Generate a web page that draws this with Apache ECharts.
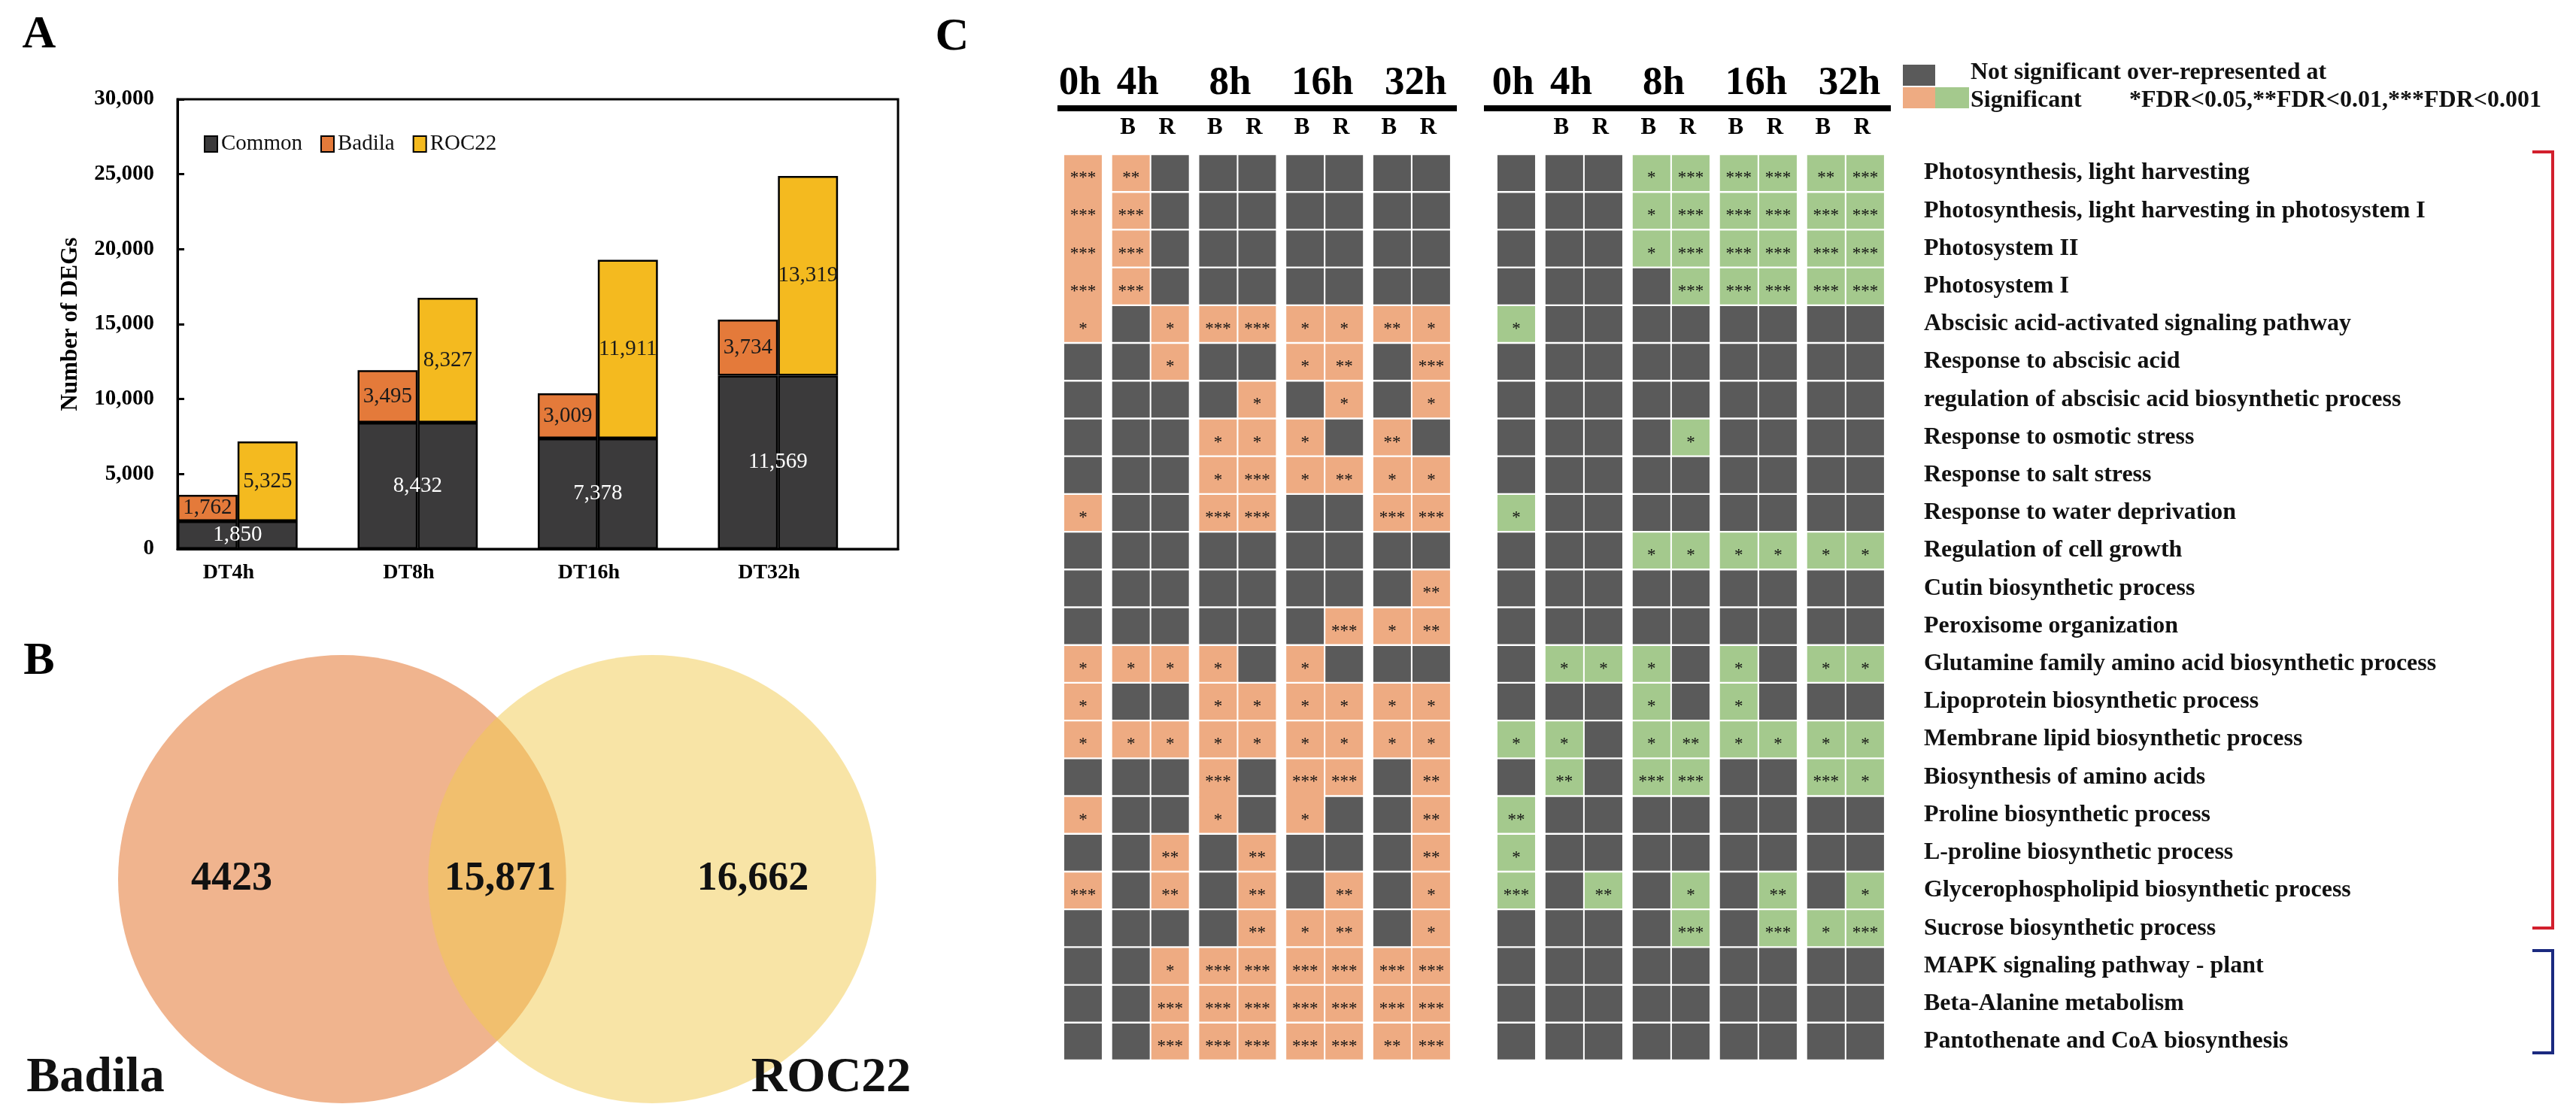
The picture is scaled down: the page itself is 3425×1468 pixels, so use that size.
<!DOCTYPE html>
<html><head><meta charset="utf-8">
<script src="https://cdn.jsdelivr.net/npm/echarts@6/dist/echarts.min.js"></script>
<style>html,body{margin:0;padding:0;background:#fff}#c{width:3425px;height:1468px}</style>
</head><body><div id="c"></div>
<script>
// ---------- Panel A data ----------
const timepoints = ['DT4h', 'DT8h', 'DT16h', 'DT32h'];
const commonDEGs = [1850, 8432, 7378, 11569];
const badilaDEGs = [1762, 3495, 3009, 3734];
const roc22DEGs  = [5325, 8327, 11911, 13319];
const seriesNames = ['Common', 'Badila', 'ROC22'];

// ---------- Panel B data ----------
const vennNames  = ['Badila', 'ROC22'];
const vennCounts = [4423, 15871, 16662]; // Badila only, shared, ROC22 only

// ---------- Panel C data ----------
const hourLabels = ['0h', '4h', '8h', '16h', '32h'];
const cellColumns = ['0h', '4h B', '4h R', '8h B', '8h R', '16h B', '16h R', '32h B', '32h R'];
const subLabels = ['', 'B', 'R', 'B', 'R', 'B', 'R', 'B', 'R'];
const goTerms = [
  'Photosynthesis, light harvesting',
  'Photosynthesis, light harvesting in photosystem I',
  'Photosystem II',
  'Photosystem I',
  'Abscisic acid-activated signaling pathway',
  'Response to abscisic acid',
  'regulation of abscisic acid biosynthetic process',
  'Response to osmotic stress',
  'Response to salt stress',
  'Response to water deprivation',
  'Regulation of cell growth',
  'Cutin biosynthetic process',
  'Peroxisome organization',
  'Glutamine family amino acid biosynthetic process',
  'Lipoprotein biosynthetic process',
  'Membrane lipid biosynthetic process',
  'Biosynthesis of amino acids',
  'Proline biosynthetic process',
  'L-proline biosynthetic process',
  'Glycerophospholipid biosynthetic process',
  'Sucrose biosynthetic process',
  'MAPK signaling pathway - plant',
  'Beta-Alanine metabolism',
  'Pantothenate and CoA biosynthesis'
];
// 0 = not significant, 1 = *, 2 = **, 3 = ***
const sigOrange = [
  [3,2,0,0,0,0,0,0,0],
  [3,3,0,0,0,0,0,0,0],
  [3,3,0,0,0,0,0,0,0],
  [3,3,0,0,0,0,0,0,0],
  [1,0,1,3,3,1,1,2,1],
  [0,0,1,0,0,1,2,0,3],
  [0,0,0,0,1,0,1,0,1],
  [0,0,0,1,1,1,0,2,0],
  [0,0,0,1,3,1,2,1,1],
  [1,0,0,3,3,0,0,3,3],
  [0,0,0,0,0,0,0,0,0],
  [0,0,0,0,0,0,0,0,2],
  [0,0,0,0,0,0,3,1,2],
  [1,1,1,1,0,1,0,0,0],
  [1,0,0,1,1,1,1,1,1],
  [1,1,1,1,1,1,1,1,1],
  [0,0,0,3,0,3,3,0,2],
  [1,0,0,1,0,1,0,0,2],
  [0,0,2,0,2,0,0,0,2],
  [3,0,2,0,2,0,2,0,1],
  [0,0,0,0,2,1,2,0,1],
  [0,0,1,3,3,3,3,3,3],
  [0,0,3,3,3,3,3,3,3],
  [0,0,3,3,3,3,3,2,3]
];
const sigGreen = [
  [0,0,0,1,3,3,3,2,3],
  [0,0,0,1,3,3,3,3,3],
  [0,0,0,1,3,3,3,3,3],
  [0,0,0,0,3,3,3,3,3],
  [1,0,0,0,0,0,0,0,0],
  [0,0,0,0,0,0,0,0,0],
  [0,0,0,0,0,0,0,0,0],
  [0,0,0,0,1,0,0,0,0],
  [0,0,0,0,0,0,0,0,0],
  [1,0,0,0,0,0,0,0,0],
  [0,0,0,1,1,1,1,1,1],
  [0,0,0,0,0,0,0,0,0],
  [0,0,0,0,0,0,0,0,0],
  [0,1,1,1,0,1,0,1,1],
  [0,0,0,1,0,1,0,0,0],
  [1,1,0,1,2,1,1,1,1],
  [0,2,0,3,3,0,0,3,1],
  [2,0,0,0,0,0,0,0,0],
  [1,0,0,0,0,0,0,0,0],
  [3,0,2,0,1,0,2,0,1],
  [0,0,0,0,3,0,3,1,3],
  [0,0,0,0,0,0,0,0,0],
  [0,0,0,0,0,0,0,0,0],
  [0,0,0,0,0,0,0,0,0]
];
const legendTextC = ['Not significant over-represented at', 'Significant', '*FDR<0.05,**FDR<0.01,***FDR<0.001'];

// ---------- styles / layout ----------
const SERIF = "'Liberation Serif','Times New Roman',serif";
const COLORS = { Common: '#3b3a3b', Badila: '#e47a3a', ROC22: '#f4ba1f' };
const GRAY = '#5a5a5a', ORANGE = '#eeab82', GREEN = '#a4c98d';
const fmt = v => String(v).replace(/\B(?=(\d{3})+(?!\d))/g, ',');
// visual style: cells drawn joined with the cell below (block, column, row)
const joinedBelow = { orange: ['0-0', '0-1', '0-2', '0-3', '3-16', '5-16'], green: [] };

// bar slots: Badila bar, ROC22 bar, gap (per time point)
const slots = [];
timepoints.forEach(t => { slots.push(t + '|B', t + '|R', t + '|-'); });
const commonData = [], badilaData = [], rocData = [];
timepoints.forEach((t, i) => {
  commonData.push({ value: commonDEGs[i], label: { show: true } }, commonDEGs[i], '-');
  badilaData.push(badilaDEGs[i], '-', '-');
  rocData.push('-', roc22DEGs[i], '-');
});

// heatmap column positions (units): groups separated by a small gap
const GROUP_GAP = 0.225, CELL_W = 0.96;
const colPos = c => c + Math.ceil(c / 2) * GROUP_GAP;
const XMAX = colPos(8) + 1;
function heatData(sig) {
  const out = [];
  sig.forEach((row, r) => row.forEach((v, c) => out.push([colPos(c), r, v, c])));
  return out;
}
function heatRender(color, joins) {
  return function (params, api) {
    const x = api.value(0), r = api.value(1), v = api.value(2), c = api.value(3);
    const p = api.coord([x, r]);
    const w = api.size([CELL_W, 0])[0];
    const band = api.size([0, 1])[1];
    const gap = 2.4;
    const h = band - gap + (joins.indexOf(c + '-' + r) >= 0 ? gap + 0.5 : 0);
    const top = p[1] - (band - gap) / 2;
    const children = [{ type: 'rect', shape: { x: p[0], y: top, width: w, height: h }, style: { fill: v > 0 ? color : GRAY } }];
    if (v > 0) children.push({ type: 'text', z2: 10, style: { text: '*'.repeat(v), x: p[0] + w / 2, y: p[1] + 7, align: 'center', verticalAlign: 'middle', fontSize: 23, fontFamily: SERIF, fill: '#111' } });
    return { type: 'group', children };
  };
}

// venn layout (data units, radius = 1)
const VENN = { dx: 0.687, r: 0.993, textX: [-1.177, 0.013, 1.133], nameX: [-1.78, 1.48], nameY: -0.885 };

const chart = echarts.init(document.getElementById('c'), null, { renderer: 'canvas' });
const option = {
  animation: false,
  backgroundColor: '#fff',
  grid: [
    { left: 236, top: 132, width: 958, height: 598, show: true, borderColor: '#000', borderWidth: 3, backgroundColor: 'transparent' },
    { left: 61, top: 870, width: 1200, height: 600 },
    { left: 1415, top: 205, width: 515, height: 1205 },
    { left: 1991, top: 205, width: 516, height: 1205 }
  ],
  legend: {
    data: seriesNames, left: 266, top: 172, itemWidth: 17, itemHeight: 21, itemGap: 24, icon: 'rect',
    textStyle: { fontFamily: SERIF, fontSize: 29, color: '#111' }
  },
  xAxis: [
    { gridIndex: 0, type: 'category', data: slots,
      axisLine: { lineStyle: { color: '#000', width: 3 } }, axisTick: { show: false },
      axisLabel: { interval: 0, formatter: (v, i) => (i % 3 === 0 ? v.split('|')[0] : ''), padding: [0, 0, 0, 56],
        fontFamily: SERIF, fontWeight: 'bold', fontSize: 28, color: '#000', margin: 18 } },
    { gridIndex: 1, type: 'value', min: -2, max: 2, show: false },
    { gridIndex: 2, type: 'value', min: 0, max: XMAX, show: false },
    { gridIndex: 3, type: 'value', min: 0, max: XMAX, show: false }
  ],
  yAxis: [
    { gridIndex: 0, type: 'value', min: 0, max: 30000, interval: 5000,
      name: 'Number of DEGs', nameLocation: 'middle', nameGap: 127,
      nameTextStyle: { fontFamily: SERIF, fontWeight: 'bold', fontSize: 31, color: '#000' },
      axisLine: { show: true, lineStyle: { color: '#000', width: 3 } },
      axisTick: { show: true, inside: true, length: 9, lineStyle: { color: '#000', width: 3 } },
      splitLine: { show: false },
      axisLabel: { formatter: v => fmt(v), fontFamily: SERIF, fontWeight: 'bold', fontSize: 29, color: '#000', margin: 31 } },
    { gridIndex: 1, type: 'value', min: -1, max: 1, show: false },
    { gridIndex: 2, type: 'category', data: goTerms, inverse: true, show: false },
    { gridIndex: 3, type: 'category', data: goTerms, inverse: true, position: 'right',
      axisLine: { show: false }, axisTick: { show: false },
      axisLabel: { align: 'left', margin: 51, fontFamily: SERIF, fontWeight: 'bold', fontSize: 32, color: '#111' } }
  ],
  series: [
    { name: 'Common', type: 'bar', stack: 'deg', xAxisIndex: 0, yAxisIndex: 0, data: commonData, barCategoryGap: '0%',
      itemStyle: { color: COLORS.Common, borderColor: '#000', borderWidth: 2.5 },
      label: { show: false, position: 'inside', offset: [40, 0], color: '#fff', fontFamily: SERIF, fontSize: 29, formatter: p => fmt(p.value) } },
    { name: 'Badila', type: 'bar', stack: 'deg', xAxisIndex: 0, yAxisIndex: 0, data: badilaData, barCategoryGap: '0%',
      itemStyle: { color: COLORS.Badila, borderColor: '#000', borderWidth: 2.5 },
      label: { show: true, position: 'inside', color: '#1a1a1a', fontFamily: SERIF, fontSize: 29, formatter: p => fmt(p.value) } },
    { name: 'ROC22', type: 'bar', stack: 'deg', xAxisIndex: 0, yAxisIndex: 0, data: rocData, barCategoryGap: '0%',
      itemStyle: { color: COLORS.ROC22, borderColor: '#000', borderWidth: 2.5 },
      label: { show: true, position: 'inside', color: '#1a1a1a', fontFamily: SERIF, fontSize: 29, formatter: p => fmt(p.value) } },
    // Venn circles
    { type: 'custom', xAxisIndex: 1, yAxisIndex: 1, data: vennNames.map((n, i) => [i === 0 ? -VENN.dx : VENN.dx, 0, i]),
      renderItem: (params, api) => {
        const c = api.coord([api.value(0), api.value(1)]);
        const r = api.size([VENN.r, 0])[0];
        const i = api.value(2);
        return { type: 'circle', shape: { cx: c[0], cy: c[1], r },
          style: i === 0 ? { fill: '#f0b48e' } : { fill: '#f1c94d', opacity: 0.5 } };
      }, silent: true },
    // Venn counts
    { type: 'custom', xAxisIndex: 1, yAxisIndex: 1, data: vennCounts.map((v, i) => [VENN.textX[i], 0, v]), z: 5,
      renderItem: (params, api) => {
        const c = api.coord([api.value(0), api.value(1)]);
        const v = api.value(2);
        return { type: 'text', style: { text: v < 10000 ? String(v) : fmt(v),
          x: c[0], y: c[1], align: 'center', verticalAlign: 'middle', fontFamily: SERIF, fontWeight: 'bold', fontSize: 54, fill: '#111' } };
      } },
    // Venn set names
    { type: 'custom', xAxisIndex: 1, yAxisIndex: 1, data: vennNames.map((n, i) => [VENN.nameX[i], VENN.nameY, i]), z: 5,
      renderItem: (params, api) => {
        const c = api.coord([api.value(0), api.value(1)]);
        return { type: 'text', style: { text: vennNames[api.value(2)], x: c[0], y: c[1], align: 'center', verticalAlign: 'middle',
          fontFamily: SERIF, fontWeight: 'bold', fontSize: 66, fill: '#111' } };
      } },
    // Heatmaps
    { type: 'custom', xAxisIndex: 2, yAxisIndex: 2, data: heatData(sigOrange), renderItem: heatRender(ORANGE, joinedBelow.orange) },
    { type: 'custom', xAxisIndex: 3, yAxisIndex: 3, data: heatData(sigGreen), renderItem: heatRender(GREEN, joinedBelow.green) }
  ]
};
chart.setOption(option);

// ---------- annotations (headers, legend of C, brackets, panel letters) ----------
const hourPos = [0.4, 1.88, 4.24, 6.6, 8.98];
const g = [];
const letter = (t, x, y) => ({ type: 'text', style: { text: t, x, y, align: 'center', verticalAlign: 'middle', fontFamily: SERIF, fontWeight: 'bold', fontSize: 62, fill: '#000' } });
g.push(letter('A', 52, 47), letter('B', 52, 880), letter('C', 1266, 50));
[2, 3].forEach((xi, b) => {
  hourLabels.forEach((h, k) => {
    const px = chart.convertToPixel({ xAxisIndex: xi }, hourPos[k]);
    g.push({ type: 'text', style: { text: h, x: px, y: 111, align: 'center', verticalAlign: 'middle', fontFamily: SERIF, fontWeight: 'bold', fontSize: 53, fill: '#000' } });
  });
  subLabels.forEach((s, c) => {
    if (!s) return;
    const px = chart.convertToPixel({ xAxisIndex: xi }, colPos(c) + CELL_W / 2);
    g.push({ type: 'text', style: { text: s, x: px - 4, y: 170, align: 'center', verticalAlign: 'middle', fontFamily: SERIF, fontWeight: 'bold', fontSize: 31, fill: '#000' } });
  });
  const x0 = chart.convertToPixel({ xAxisIndex: xi }, 0);
  const x1 = chart.convertToPixel({ xAxisIndex: xi }, XMAX);
  g.push({ type: 'rect', shape: { x: x0 - (b === 0 ? 9 : 18), y: 140, width: (x1 - x0) + (b === 0 ? 16 : 25), height: 8 }, style: { fill: '#000' } });
});
// legend of panel C
g.push({ type: 'rect', shape: { x: 2530, y: 86, width: 43, height: 28 }, style: { fill: GRAY } });
g.push({ type: 'rect', shape: { x: 2530, y: 116, width: 43, height: 28 }, style: { fill: ORANGE } });
g.push({ type: 'rect', shape: { x: 2573, y: 116, width: 45, height: 28 }, style: { fill: GREEN } });
const lt = (t, x, y) => ({ type: 'text', style: { text: t, x, y, align: 'left', verticalAlign: 'middle', fontFamily: SERIF, fontWeight: 'bold', fontSize: 32, fill: '#111' } });
g.push(lt(legendTextC[0], 2620, 97), lt(legendTextC[1], 2620, 134), lt(legendTextC[2], 2831, 134));
// brackets
g.push({ type: 'polyline', shape: { points: [[3367, 202], [3394, 202], [3394, 1234], [3367, 1234]] }, style: { stroke: '#d21f2d', lineWidth: 4, fill: null } });
g.push({ type: 'polyline', shape: { points: [[3367, 1264], [3394, 1264], [3394, 1400], [3367, 1400]] }, style: { stroke: '#1b2a80', lineWidth: 4, fill: null } });
chart.setOption({ graphic: g });
</script></body></html>
